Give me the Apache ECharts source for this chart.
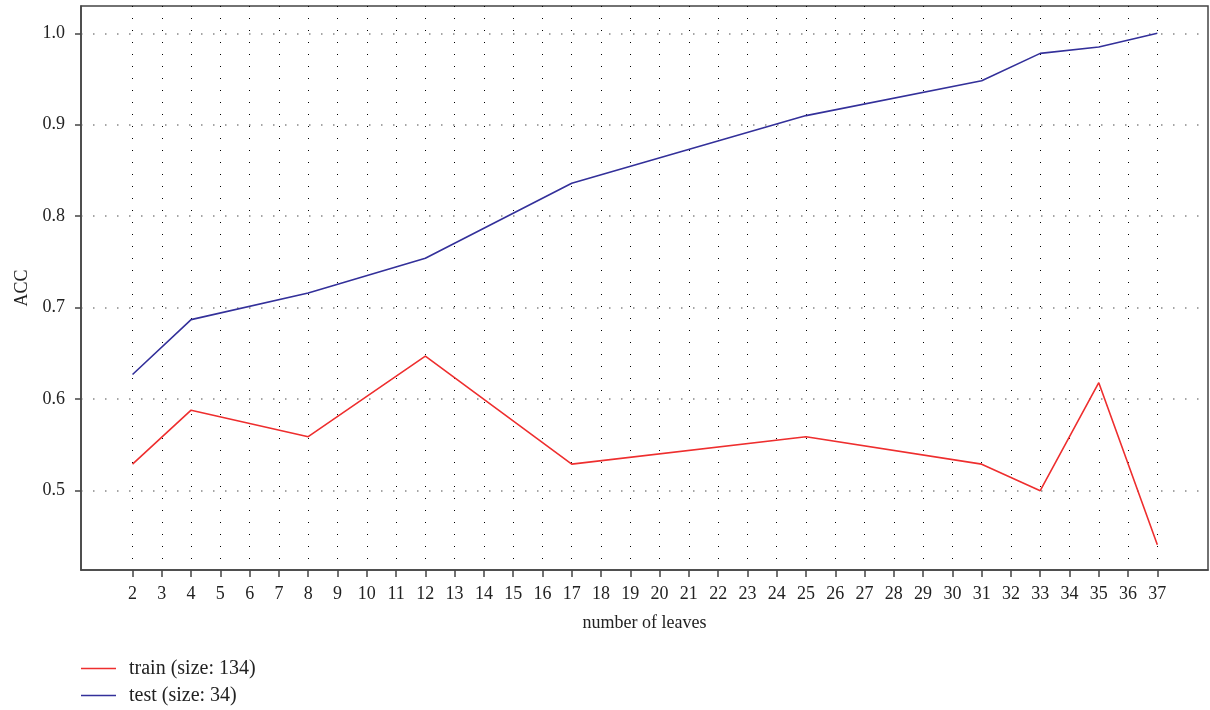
<!DOCTYPE html>
<html>
<head>
<meta charset="utf-8">
<script src="https://cdn.jsdelivr.net/npm/echarts@6/dist/echarts.min.js"></script>
<style>
html,body{margin:0;padding:0;background:#fff;}
#chart{width:1210px;height:710px;}
</style>
</head>
<body>
<div id="chart"></div>
<script>
var leaves = [2, 4, 8, 12, 17, 25, 31, 33, 35, 37];
var trainAcc = [0.529, 0.588, 0.559, 0.647, 0.529, 0.559, 0.529, 0.500, 0.618, 0.441];
var testAcc = [0.627, 0.687, 0.716, 0.754, 0.836, 0.910, 0.948, 0.978, 0.985, 1.000];
var xTicks = [2,3,4,5,6,7,8,9,10,11,12,13,14,15,16,17,18,19,20,21,22,23,24,25,26,27,28,29,30,31,32,33,34,35,36,37];
var yTicks = [0.5, 0.6, 0.7, 0.8, 0.9, 1.0];
var seriesNames = ['train (size: 134)', 'test (size: 34)'];

var FONT = '"Liberation Serif", "DejaVu Serif", serif';

function pairs(xs, ys) {
  return xs.map(function (x, i) { return [x, ys[i]]; });
}

var chart = echarts.init(document.getElementById('chart'), null, {renderer: 'canvas'});
chart.setOption({
  animation: false,
  backgroundColor: '#fff',
  textStyle: {fontFamily: FONT},
  grid: {
    left: 81, top: 6, right: 2, bottom: 140,
    show: true, borderColor: '#444', borderWidth: 1.5, backgroundColor: 'transparent'
  },
  xAxis: {
    type: 'value',
    min: 0.24, max: 38.73,
    name: 'number of leaves',
    nameLocation: 'middle',
    nameGap: 44,
    nameTextStyle: {fontFamily: FONT, fontSize: 18, color: '#222'},
    axisLine: {show: true, onZero: false, lineStyle: {color: '#444', width: 1.5}},
    axisTick: {show: true, customValues: xTicks, length: 7, lineStyle: {color: '#444', width: 1.5}},
    axisLabel: {customValues: xTicks, fontFamily: FONT, fontSize: 18, color: '#222', margin: 15},
    splitLine: {show: true, customValues: xTicks, lineStyle: {color: '#000', width: 1, type: [1, 11]}}
  },
  yAxis: {
    type: 'value',
    min: 0.4133, max: 1.0298,
    name: 'ACC',
    nameLocation: 'middle',
    nameGap: 49,
    nameRotate: 90,
    nameTextStyle: {fontFamily: FONT, fontSize: 18, color: '#222'},
    axisLine: {show: true, lineStyle: {color: '#444', width: 1.5}},
    axisTick: {show: true, customValues: yTicks, length: 6, lineStyle: {color: '#444', width: 1.5}},
    axisLabel: {customValues: yTicks, fontFamily: FONT, fontSize: 18, color: '#222', margin: 16,
      formatter: function (v) { return v.toFixed(1); }},
    splitLine: {show: true, customValues: yTicks, lineStyle: {color: '#888', width: 1.5, type: [1.5, 10.5]}}
  },
  legend: {
    orient: 'vertical',
    left: 81, top: 655, height: 60,
    padding: 0,
    icon: 'rect',
    itemWidth: 35, itemHeight: 1.5, itemGap: 0,
    textStyle: {fontFamily: FONT, fontSize: 20, color: '#222', lineHeight: 27, padding: [0, 0, 0, 8]},
    data: seriesNames
  },
  series: [
    {
      name: seriesNames[0], type: 'line', data: pairs(leaves, trainAcc),
      symbol: 'none', color: '#ee2e2e', lineStyle: {width: 1.6, color: '#ee2e2e'}
    },
    {
      name: seriesNames[1], type: 'line', data: pairs(leaves, testAcc),
      symbol: 'none', color: '#33309a', lineStyle: {width: 1.6, color: '#33309a'}
    }
  ]
});
</script>
</body>
</html>
